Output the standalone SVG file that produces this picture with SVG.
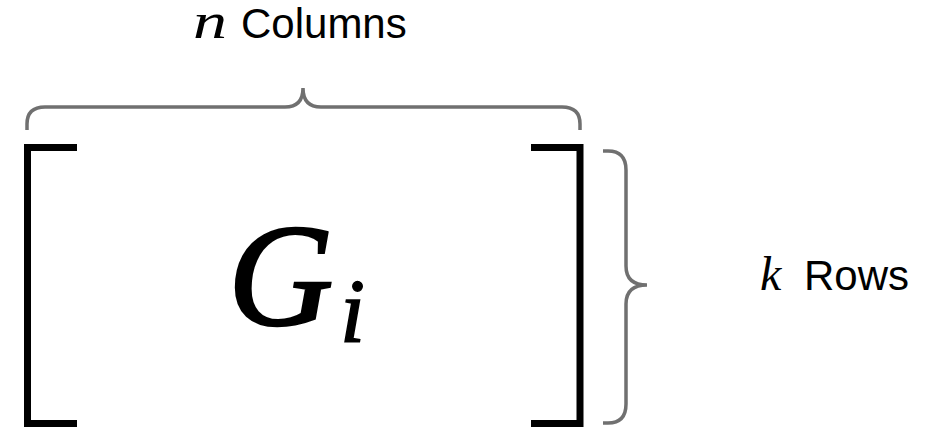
<svg xmlns="http://www.w3.org/2000/svg" width="927" height="427" viewBox="0 0 927 427">
<style>
.brk{fill:none;stroke:#000;stroke-width:7;stroke-linejoin:miter}
.brace{fill:none;stroke:#707070;stroke-width:3.5;stroke-linecap:butt}
.lbl{font-family:"Liberation Sans",Arial,sans-serif;font-size:42px;fill:#000}
.math{font-family:"Liberation Serif","Times New Roman",serif;font-style:italic;fill:#000}
</style>
<rect width="927" height="427" fill="#fff"/>
<g id="matrix">
<path class="brk" d="M77,147.5 H27.5 V423.5 H77"/>
<path class="brk" d="M531,147.5 H580 V423.5 H531"/>
<text x="228" y="325" class="math" font-size="146" stroke="#000" stroke-width="2.5">G</text>
<text x="340" y="342" class="math" font-size="90" stroke="#000" stroke-width="1.5">i</text>
</g>
<g id="connectors">
<path class="brace" d="M27,130 V124 Q27,107 45,107 H285 Q303,107 303,88 Q303,107 321,107 H562 Q580,107 580,124 V130"/>
<path class="brace" d="M603,151 H608 Q626,151 626,170 V266 Q626,285 647,285 Q626,285 626,304 V404 Q626,423 608,423 H603"/>
</g>
<g id="columns-label">
<text x="193" y="38" class="math" font-size="50" textLength="34" lengthAdjust="spacingAndGlyphs">n</text>
<text x="241" y="38" class="lbl">Columns</text>
</g>
<g id="rows-label">
<text x="760" y="290" class="math" font-size="48">k</text>
<text x="804" y="290" class="lbl">Rows</text>
</g>
</svg>
